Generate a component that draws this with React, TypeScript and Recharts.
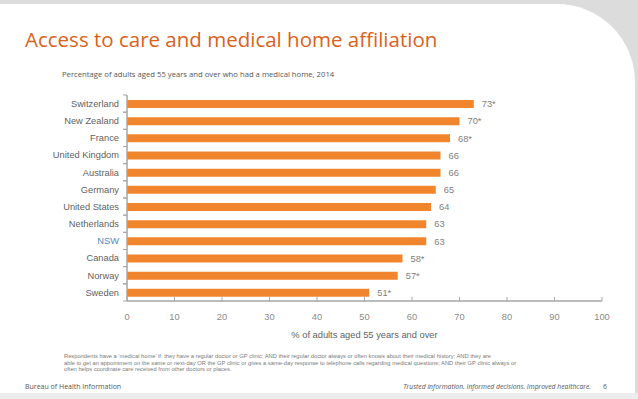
import React from 'react';
import { BarChart, Bar, XAxis, YAxis, LabelList } from 'recharts';

const countries = [
  'Switzerland',
  'New Zealand',
  'France',
  'United Kingdom',
  'Australia',
  'Germany',
  'United States',
  'Netherlands',
  'NSW',
  'Canada',
  'Norway',
  'Sweden',
];
const values = [73, 70, 68, 66, 66, 65, 64, 63, 63, 58, 57, 51];
const significant = [true, true, true, false, false, false, false, false, false, true, true, true];
const xTicks = [0, 10, 20, 30, 40, 50, 60, 70, 80, 90, 100];
const highlight = 'NSW';

const data = countries.map((name, i) => ({
  name,
  value: values[i],
  label: significant[i] ? `${values[i]}*` : `${values[i]}`,
}));

const ORANGE = '#f0852d';
const AXIS = '#a6a6a6';
const CHART_FONT = '"Liberation Sans", Arial, sans-serif';

function CountryTick(props: any) {
  const { x, y, payload } = props;
  const half = payload.offset || 8.6;
  const isHl = payload.value === highlight;
  return (
    <g>
      <line x1={x + 4} x2={x + 8} y1={y - half} y2={y - half} stroke={AXIS} />
      <line x1={x + 4} x2={x + 8} y1={y + half} y2={y + half} stroke={AXIS} />
      <text
        x={x}
        y={y}
        dy="0.35em"
        textAnchor="end"
        fontSize={9.3}
        fontFamily={CHART_FONT}
        fill={isHl ? '#4f89c7' : '#5f5f5f'}
      >
        {payload.value}
      </text>
    </g>
  );
}

function ValueTick(props: any) {
  const { x, y, payload } = props;
  return (
    <g>
      <line x1={x} x2={x} y1={y - 12} y2={y - 16} stroke={AXIS} />
      <text
        x={x}
        y={y}
        dy="0.71em"
        textAnchor="middle"
        fontSize={9.3}
        fontFamily={CHART_FONT}
        fill="#8a8a8a"
      >
        {payload.value}
      </text>
    </g>
  );
}

export default function App() {
  return (
    <div
      style={{
        position: 'absolute',
        left: 0,
        top: 0,
        width: 638,
        height: 399,
        background: '#dcdcdc',
        overflow: 'hidden',
      }}
    >
      <div
        style={{
          position: 'absolute',
          left: 0,
          top: 393,
          width: 638,
          height: 6,
          background: '#ececec',
        }}
      />
      <div
        style={{
          position: 'absolute',
          left: 0,
          top: 4,
          width: 635,
          height: 389,
          background: '#fff',
          borderTopRightRadius: 78,
        }}
      />
      <div
        style={{
          position: 'absolute',
          left: 25,
          top: 25,
          fontFamily: '"Open Sans", sans-serif',
          fontSize: 20.5,
          color: '#d9621a',
          whiteSpace: 'nowrap',
        }}
      >
        Access to care and medical home affiliation
      </div>
      <div
        style={{
          position: 'absolute',
          left: 62,
          top: 69,
          fontFamily: '"Open Sans", sans-serif',
          fontSize: 7.7,
          color: '#555',
          whiteSpace: 'nowrap',
        }}
      >
        Percentage of adults aged 55 years and over who had a medical home, 2014
      </div>
      <div style={{ position: 'absolute', left: 0, top: 0 }}>
        <BarChart
          width={638}
          height={399}
          layout="vertical"
          data={data}
          margin={{ top: 95, right: 36, bottom: 55, left: 0 }}
        >
          <XAxis
            type="number"
            domain={[0, 100]}
            ticks={xTicks}
            interval={0}
            height={43}
            tickSize={0}
            tickMargin={12}
            tickLine={false}
            axisLine={{ stroke: AXIS, strokeWidth: 1.5 }}
            tick={<ValueTick />}
            label={{
              value: '% of adults aged 55 years and over',
              position: 'insideBottom',
              offset: 6,
              fontSize: 9.3,
              fontFamily: CHART_FONT,
              fill: '#5f5f5f',
            }}
          />
          <YAxis
            type="category"
            dataKey="name"
            width={127}
            interval={0}
            tickSize={0}
            tickMargin={8}
            tickLine={false}
            axisLine={{ stroke: AXIS, strokeWidth: 1.5 }}
            tick={<CountryTick />}
          />
          <Bar dataKey="value" fill={ORANGE} barSize={8} isAnimationActive={false}>
            <LabelList
              dataKey="label"
              position="right"
              offset={8}
              fontSize={9.3}
              fontFamily={CHART_FONT}
              fill="#808080"
            />
          </Bar>
        </BarChart>
      </div>
      <div
        style={{
          position: 'absolute',
          left: 64,
          top: 353,
          fontFamily: CHART_FONT,
          fontSize: 5.75,
          lineHeight: '6.6px',
          color: '#7a7a7a',
          whiteSpace: 'nowrap',
        }}
      >
        <div>
          Respondents have a ‘medical home’ if: they have a regular doctor or GP clinic; AND their regular doctor always or often knows about their medical history; AND they are
        </div>
        <div>
          able to get an appointment on the same or next-day OR the GP clinic or gives a same-day response to telephone calls regarding medical questions; AND their GP clinic always or
        </div>
        <div>often helps coordinate care received from other doctors or places.</div>
      </div>
      <div
        style={{
          position: 'absolute',
          left: 25,
          top: 382,
          fontFamily: '"Open Sans", sans-serif',
          fontSize: 7,
          color: '#555',
          whiteSpace: 'nowrap',
        }}
      >
        Bureau of Health Information
      </div>
      <div
        style={{
          position: 'absolute',
          right: 47,
          top: 382,
          fontFamily: '"Open Sans", sans-serif',
          fontSize: 6.8,
          fontStyle: 'italic',
          color: '#555',
          whiteSpace: 'nowrap',
        }}
      >
        Trusted information. Informed decisions. Improved healthcare.
      </div>
      <div
        style={{
          position: 'absolute',
          left: 603,
          top: 382,
          fontFamily: '"Open Sans", sans-serif',
          fontSize: 6.8,
          color: '#555',
        }}
      >
        6
      </div>
    </div>
  );
}
